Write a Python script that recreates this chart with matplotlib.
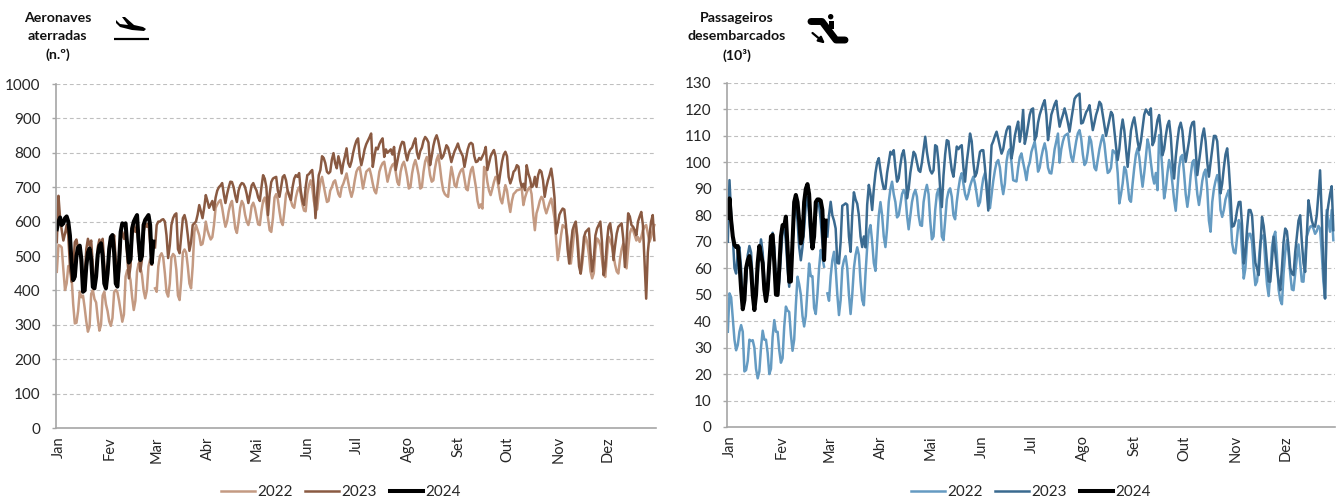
import numpy as np
import matplotlib
matplotlib.use('agg')
import matplotlib.pyplot as plt
from matplotlib.patches import Polygon, Circle, Rectangle
from matplotlib.transforms import ScaledTranslation

plt.rcParams['font.family'] = ['Lato', 'DejaVu Sans']

nan = float('nan')
months = ['Jan', 'Fev', 'Mar', 'Abr', 'Mai', 'Jun', 'Jul', 'Ago', 'Set', 'Out', 'Nov', 'Dez']
month_start = [0, 31, 60, 91, 121, 152, 182, 213, 244, 274, 305, 335]

# aeronaves aterradas, one row per week, 29 Feb left empty except in 2024
air_2022 = [
    454, 532, 530, 525, 460, 401, 420,
    471, 465, 440, 360, 304, 306, 340,
    396, 380, 385, 350, 310, 280, 295,
    390, 401, 375, 365, 320, 283, 300,
    385, 396, 360, 340, 310, 297, 320,
    395, 401, 395, 370, 340, 309, 330,
    440, 459, 450, 430, 380, 343, 370,
    455, 479, 470, 445, 400, 377, 400,
    470, 490, 496, nan, 406, 396, 470,
    500, 508, 495, 450, 395, 382, 420,
    495, 506, 500, 460, 385, 372, 430,
    510, 519, 510, 470, 420, 406, 470,
    570, 590, 575, 560, 532, 535, 560,
    600, 575, 560, 548, 555, 590, 640,
    650, 658, 663, 640, 610, 585, 600,
    630, 650, 660, 620, 580, 567, 600,
    640, 660, 650, 620, 600, 590, 610,
    645, 655, 640, 615, 592, 590, 630,
    660, 670, 650, 610, 575, 570, 610,
    670, 680, 665, 630, 600, 590, 630,
    680, 690, 675, 660, 645, 640, 670,
    690, 700, 680, 650, 632, 630, 680,
    705, 720, 700, 660, 636, 635, 680,
    715, 730, 705, 680, 657, 660, 690,
    700, 715, 720, 700, 680, 672, 700,
    710, 725, 740, 715, 690, 672, 690,
    720, 745, 755, 759, 730, 696, 720,
    745, 750, 754, 735, 710, 690, 682,
    710, 745, 760, 770, 774, 745, 716,
    735, 755, 765, 769, 745, 715, 706,
    745, 765, 774, 755, 730, 696, 700,
    740, 765, 779, 760, 735, 696, 700,
    745, 775, 788, 770, 735, 716, 720,
    755, 780, 793, 760, 720, 691, 680,
    675, 672, 720, 759, 735, 705, 700,
    725, 740, 750, 754, 725, 695, 691,
    725, 750, 759, 730, 700, 660, 640,
    650, 638, 759, 750, 715, 690, 677,
    695, 715, 730, 725, 695, 665, 653,
    680, 706, 690, 655, 628, 660, 680,
    685, 691, 692, 694, 696, 648, 670,
    685, 695, 701, 680, 620, 575, 624,
    640, 660, 672, 665, 640, 624, 640,
    655, 667, 640, 610, 550, 488, 520,
    560, 590, 585, 580, 555, 510, 478,
    520, 570, 590, 560, 500, 449, 480,
    530, 556, 540, 505, 455, 435, 450,
    520, 551, 545, 530, 490, 450, 439,
    500, 556, 545, 530, 505, 475, 455,
    449, 490, 520, 536, 500, 464, 520,
    565, 580, 575, 560, 545, 555, 541,
    555, 575, 585, 590, 565, 541, 555,
    575, 590,
]
air_2023 = [
    540, 675, 610, 575, 545, 565, 590,
    560, 470, 425, 465, 540, 548, 520,
    530, 470, 405, 440, 520, 550, 530,
    545, 470, 408, 445, 525, 548, 525,
    550, 475, 410, 445, 530, 555, 530,
    560, 490, 420, 455, 550, 570, 550,
    570, 500, 435, 470, 560, 585, 570,
    590, 520, 455, 490, 570, 595, 585,
    595, 540, 475, nan, 525, 590, 600,
    600, 605, 607, 600, 560, 494, 530,
    590, 610, 620, 624, 520, 508, 560,
    610, 619, 600, 560, 515, 540, 590,
    595, 600, 620, 648, 630, 610, 640,
    677, 660, 640, 650, 660, 634, 670,
    690, 700, 705, 712, 680, 654, 680,
    700, 716, 715, 700, 675, 657, 690,
    705, 712, 710, 700, 680, 654, 680,
    705, 712, 700, 690, 670, 660, 700,
    735, 725, 700, 619, 680, 715, 725,
    728, 730, 690, 672, 700, 730, 735,
    720, 690, 675, 663, 700, 725, 735,
    730, 741, 690, 660, 648, 700, 735,
    738, 745, 750, 700, 610, 680, 735,
    750, 790, 785, 770, 745, 740, 745,
    780, 799, 770, 755, 790, 770, 740,
    770, 790, 813, 770, 759, 775, 800,
    820, 835, 842, 790, 764, 785, 810,
    825, 835, 845, 856, 759, 790, 815,
    810, 825, 835, 842, 788, 810, 800,
    805, 810, 795, 817, 750, 775, 800,
    820, 832, 830, 800, 778, 800, 810,
    815, 830, 842, 800, 783, 805, 815,
    835, 846, 840, 830, 764, 790, 820,
    840, 851, 835, 810, 783, 790, 805,
    822, 815, 795, 773, 790, 805, 815,
    827, 810, 800, 790, 759, 785, 810,
    825, 829, 825, 790, 773, 775, 785,
    780, 790, 800, 817, 750, 770, 790,
    800, 808, 790, 740, 711, 745, 775,
    795, 803, 790, 730, 711, 725, 745,
    750, 764, 760, 720, 700, 710, 691,
    764, 740, 725, 700, 705, 730, 701,
    735, 750, 745, 720, 672, 700, 720,
    735, 754, 720, 670, 565, 590, 620,
    630, 638, 635, 590, 520, 478, 530,
    575, 590, 600, 540, 470, 449, 500,
    555, 570, 575, 580, 510, 455, 490,
    560, 580, 590, 600, 540, 444, 470,
    540, 585, 595, 560, 488, 530, 565,
    585, 590, 595, 550, 468, 540, 624,
    615, 590, 585, 575, 560, 600, 615,
    628, 590, 480, 376, 510, 560, 600,
    619, 546,
]
air_2024 = [
    578, 600, 612, 590, 595, 610, 615,
    600, 560, 480, 430, 440, 500, 525,
    530, 490, 396, 400, 470, 510, 522,
    490, 410, 406, 440, 505, 530, 537,
    500, 420, 406, 450, 520, 555, 561,
    510, 420, 411, 480, 570, 595, 590,
    595, 530, 481, 490, 580, 600, 610,
    619, 540, 488, 500, 590, 605, 612,
    619, 590, 479, 542,
]

# passageiros desembarcados (milhares)
pax_2022 = [
    36, 50.5, 49, 41, 33, 29, 31,
    36, 38.5, 36, 21, 21.5, 25, 33,
    32.5, 32.8, 30, 22, 18.4, 21, 30,
    36.4, 33, 33, 28, 20, 22, 34,
    40.4, 36, 36, 29, 24.3, 26, 38,
    45.5, 44, 43.5, 35, 28.8, 33, 46,
    56.8, 54, 50, 42, 38, 42, 52,
    61.8, 57, 57, 45, 42.7, 50, 60,
    66.9, 64, 60.6, nan, 50.5, 47.7, 57,
    63, 66.2, 60, 50, 42.3, 48, 60,
    63, 64.6, 60, 50, 42.7, 50, 60,
    65, 67.9, 65, 55, 48, 46, 58,
    68, 74, 76.3, 70, 62, 59, 70,
    80, 85, 80, 72, 68, 75, 85,
    90, 92.7, 88, 85, 79.2, 80, 84,
    88, 89.6, 88, 80, 74.7, 80, 85,
    88, 89.6, 87, 80, 76.3, 76, 85,
    89, 91.5, 88, 78, 70.9, 72, 82,
    88, 90, 85, 72, 70.6, 78, 86,
    89, 90.2, 87, 80, 78.5, 85, 90,
    94, 95.9, 92, 88, 86, 88, 91,
    93, 94.6, 92, 88, 83.5, 85, 90,
    94, 96, 92, 85, 82.7, 88, 93,
    97, 100, 100.9, 98, 92, 88, 92,
    100.3, 104, 105, 100, 93.3, 93, 92.8,
    98, 102, 103.4, 100, 97, 93.3, 98,
    100, 104, 106, 107.8, 103, 96.5, 98,
    102, 105, 107.2, 104, 98, 96, 95.8,
    100, 105, 108, 110.9, 99.9, 105, 108,
    110, 110.5, 110.9, 106, 102, 100.2, 104,
    108, 111, 112.2, 109, 103, 99, 100,
    104, 109.7, 108, 103, 98, 97, 101,
    105, 108, 110.3, 107, 101, 96, 96.5,
    98, 104.6, 104, 103, 96, 84.5, 88,
    92, 98.3, 97, 92, 86, 85.1, 92,
    98, 103, 105.3, 102, 96, 90.8, 96,
    102, 108.7, 106, 100, 95, 92, 96,
    89.5, 110.3, 105, 97, 86.4, 90, 96,
    100.9, 98, 92, 86, 81.7, 90, 98,
    102, 102.8, 96, 88, 83.2, 88, 95,
    100, 100.9, 95, 88, 83.9, 88, 93,
    96, 97.3, 90, 78, 73.8, 85, 90,
    93, 95.2, 92, 82, 79.4, 82, 86,
    88, 89.5, 80, 69.4, 66, 65.6, 72,
    78.2, 76, 66, 56.1, 60, 70, 73,
    73, 70, 60, 53.6, 55, 62, 70,
    72, 72.5, 62, 54, 49.5, 58, 68,
    72, 73.8, 65, 52, 48, 46.4, 58,
    66, 70.6, 66, 58, 52, 51.7, 58,
    64, 69, 62, 55, 54.9, 64, 72,
    74, 75.7, 76, 75, 73, 74, 76,
    75, 66, 55, 48.6, 82, 78, 73.8,
    82, 70.6,
]
pax_2023 = [
    70, 93.3, 80, 72, 60, 58, 66,
    68, 60, 45.5, 48, 55, 65, 68.4,
    66, 55, 44.8, 50, 58, 66, 70.9,
    66, 55, 48, 52, 60, 68, 73.4,
    68, 56, 49.9, 55, 65, 74, 76.3,
    70, 60, 53, 60, 70, 80, 83.9,
    78, 68, 63, 68, 75, 84, 87,
    80, 70, 68, 72, 80, 85.8, 84,
    78, 70, 63.7, nan, 72, 80, 85.1,
    80, 78, 75, 62, 61.8, 70, 83.6,
    84, 84.5, 84, 72, 66.2, 80, 88.7,
    86, 84.4, 80, 72, 68, 72, 67.9,
    84, 91.5, 88, 82, 90, 96, 100,
    101.6, 97, 93, 90, 90, 96, 100,
    104, 103, 104.6, 98, 92.7, 94, 99,
    103, 104.6, 100, 86.4, 90, 96, 100,
    104, 103, 100, 97, 96.4, 100, 105,
    109.7, 104, 100, 97, 95.8, 97, 106.5,
    106, 100, 90, 83.1, 95, 103, 108.4,
    108, 102, 97, 94.6, 100, 106, 105,
    106, 106.5, 98, 92.7, 100, 105, 110.9,
    108, 100, 94.6, 96, 100, 104, 104.6,
    104.6, 98, 90, 81.8, 95, 106.5, 108,
    110, 111.6, 109, 106, 103.3, 105, 109,
    112, 113.5, 113.5, 101.5, 105, 110, 113,
    115.4, 107.8, 112, 119.8, 107, 110, 114,
    118, 120, 120.4, 108.4, 110, 115, 118,
    120, 122, 123.5, 118, 108.4, 113, 118,
    120, 122, 123.3, 118, 113.5, 116, 118,
    120.4, 118, 115, 111.6, 116, 120, 124,
    125, 125.5, 126, 114.7, 115, 117, 119,
    120, 121.6, 117, 112.2, 115, 118, 120,
    122.9, 122, 118, 114, 110, 113, 116,
    119.1, 118, 112, 106, 100.9, 105, 112,
    116.2, 112, 105, 98.3, 105, 112, 115,
    117, 113, 108, 104.6, 108, 113, 118,
    120, 119, 118, 120.4, 106.5, 108, 112,
    116, 117.9, 112, 102.7, 105, 110, 114,
    115.7, 110, 100, 93.9, 102, 108, 113,
    115, 112, 105, 100.2, 104, 108, 113,
    115, 115.4, 105, 95.2, 100, 105, 110,
    112.8, 108, 100, 94.6, 100, 105, 110,
    110, 108, 99, 88.3, 92, 98, 103,
    105.3, 98, 88, 75.7, 76, 78, 82,
    85, 85.1, 76, 61.8, 66, 75, 82,
    82, 80, 70, 62, 60, 57.4, 68,
    79.4, 76, 70, 62, 55, 54.9, 63,
    71.9, 66, 60, 55, 51.7, 60, 70,
    75, 74, 68, 60, 58, 57.4, 66,
    72, 78, 80, 70, 62, 58.6, 72,
    85.7, 82, 78, 76, 75.7, 80, 88,
    97, 80, 60, 48.6, 79.4, 84, 88,
    91, 74.4,
]
pax_2024 = [
    79, 86.4, 78, 72, 68.8, 68, 68.4,
    62, 52, 44.5, 48, 60, 63, 64.6,
    60, 50, 44.2, 50, 62, 68.4, 65,
    62, 52, 47.6, 52, 62, 72, 72.6,
    62, 50, 49.9, 60, 72, 76.3, 76,
    79.5, 68, 54.9, 55, 70, 85, 87.7,
    85, 78, 69.4, 72, 85, 90, 91.8,
    88, 76, 67.5, 72, 85, 86, 86,
    85.5, 82, 63.1, 78,
]

W, H = 1342.0, 500.0
GREY = '#A6A6A6'
TXT = '#262626'


def drawPanel(rect, series, colors, ymax, ystep):
    x0, y_top, x1, y_bot = rect
    ax = fig.add_axes([x0 / W, 1 - y_bot / H, (x1 - x0) / W, (y_bot - y_top) / H])
    for vals, col, lw, year in zip(series, colors, [1.8, 1.8, 2.9], ['2022', '2023', '2024']):
        ax.plot(np.arange(len(vals)), vals, color=col, lw=lw, label=year, solid_joinstyle='round')
    ax.set_xlim(-0.5, 366)
    ax.set_ylim(0, ymax)
    ax.set_yticks(np.arange(0, ymax + 1, ystep))
    ax.set_xticks(month_start)
    ax.set_xticklabels(months, rotation=90, ha='center', va='top')
    ax.tick_params(axis='x', length=0, pad=6, labelsize=10.5, colors=TXT)
    ax.tick_params(axis='y', length=3, width=1, color=GREY, pad=8, labelsize=11, labelcolor=TXT)
    # month names sit a little right of the day they mark
    for lab in ax.get_xticklabels():
        lab.set_transform(lab.get_transform() + ScaledTranslation(2 / 100, 0, fig.dpi_scale_trans))
    ax.grid(axis='y', color='#BFBFBF', lw=0.8, linestyle=(0, (3.5, 2.5)))
    ax.set_axisbelow(True)
    for side in ['top', 'right']:
        ax.spines[side].set_visible(False)
    for side in ['left', 'bottom']:
        ax.spines[side].set_color(GREY)
        ax.spines[side].set_linewidth(1.2)
    return ax


fig = plt.figure(figsize=(13.42, 5), dpi=100)

ax1 = drawPanel((56, 84, 656, 428), [air_2022, air_2023, air_2024], ['#C49A82', '#8A5A42', '#000000'], 1000, 100)
ax2 = drawPanel((727, 83, 1335, 427), [pax_2022, pax_2023, pax_2024], ['#659BC2', '#3A6A90', '#000000'], 130, 10)

for ax, cx in [(ax1, 341), (ax2, 1031)]:
    fig.legend(*ax.get_legend_handles_labels(), loc='center', bbox_to_anchor=(cx / W, 1 - 492.5 / H),
               ncol=3, frameon=False, fontsize=11, handlelength=2.2, handletextpad=0.15,
               columnspacing=0.85, labelcolor=TXT)

# header text and the two little icons, in pixel coordinates
over = fig.add_axes([0, 0, 1, 1], zorder=5)
over.set_xlim(0, W)
over.set_ylim(H, 0)
over.axis('off')
over.patch.set_visible(False)

for cx, lines in [(57.5, ['Aeronaves', 'aterradas', '(n.º)']),
                  (737, ['Passageiros', 'desembarcados', '(10³)'])]:
    for yy, line in zip([18, 36, 55], lines):
        over.text(cx, yy, line, ha='center', va='center', fontsize=10.2, fontweight='bold', color='#111111')

plane = [(116, 20), (120, 24), (128, 25), (122, 17), (125, 17), (134, 25), (143, 27), (146, 29),
         (144, 31), (132, 30), (120, 27), (116, 23)]
over.add_patch(Polygon(plane, closed=True, color='black', lw=0))
over.plot([114, 149], [38.7, 38.7], color='black', lw=1.6, solid_capstyle='butt')

over.plot([811, 822, 836, 845], [21.5, 21.5, 40, 40], color='black', lw=5, solid_capstyle='round',
          solid_joinstyle='round')
over.add_patch(Circle((830.7, 16.7), 2.7, color='black', lw=0))
over.add_patch(Rectangle((828.5, 21), 5, 8, color='black', lw=0))
over.annotate('', xy=(825, 43.5), xytext=(812.5, 33),
              arrowprops=dict(arrowstyle='-|>', color='black', lw=1.6, mutation_scale=9, shrinkA=0, shrinkB=0))

fig.savefig('out.png', dpi=100, facecolor='white')
